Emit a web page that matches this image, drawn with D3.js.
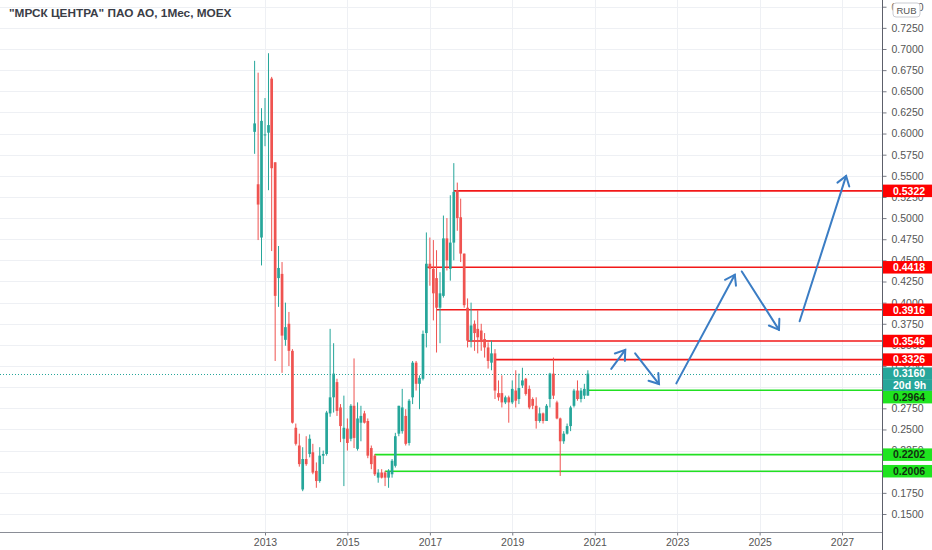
<!DOCTYPE html>
<html>
<head>
<meta charset="utf-8">
<script src="https://cdn.jsdelivr.net/npm/d3@7/dist/d3.min.js"></script>
<style>
  html, body { margin: 0; padding: 0; background: #fff; }
  svg { display: block; font-family: "Liberation Sans", Arial, sans-serif; }
</style>
</head>
<body>
<div id="chart"></div>
<script>
// monthly candles, first bar = Oct 2012
const firstMonth = new Date(2012, 9, 1);
const opens  = [.602,.540,.477,.598,.601,.665,.566,.429,.434,.356,.375,.343,.252,.231,.179,.215,.221,.223,.201,.189,
                .219,.221,.269,.288,.306,.276,.239,.251,.239,.278,.227,.258,.269,.260,.228,.219,.193,.199,.199,.193,
                .197,.207,.245,.248,.266,.234,.288,.329,.304,.310,.364,.446,.440,.429,.394,.408,.476,.440,.471,.533,
                .501,.458,.394,.355,.375,.369,.367,.357,.347,.329,.340,.293,.293,.282,.288,.282,.296,.286,.302,.310,
                .298,.286,.278,.260,.269,.260,.286,.316,.282,.263,.236,.245,.254,.278,.296,.286,.290,.290];
const highs  = [.686,.672,.630,.642,.695,.667,.566,.467,.448,.400,.389,.345,.257,.245,.229,.242,.244,.233,.211,.229,
                .225,.272,.369,.352,.310,.280,.290,.263,.280,.334,.282,.278,.272,.263,.231,.221,.203,.203,.201,.203,
                .215,.246,.278,.298,.274,.286,.331,.331,.314,.367,.483,.477,.474,.462,.436,.503,.500,.527,.565,.542,
                .523,.458,.405,.400,.379,.391,.375,.364,.353,.355,.345,.308,.314,.290,.290,.308,.320,.316,.323,.311,
                .302,.288,.288,.276,.270,.280,.317,.335,.284,.264,.248,.257,.278,.298,.308,.299,.304,.320];
const lows   = [.576,.474,.444,.585,.533,.461,.331,.395,.317,.349,.325,.257,.231,.206,.177,.207,.217,.197,.181,.187,
                .209,.219,.265,.270,.266,.235,.183,.225,.236,.228,.225,.236,.257,.216,.203,.195,.187,.192,.183,.181,
                .193,.205,.242,.245,.231,.231,.280,.296,.274,.308,.347,.420,.379,.341,.352,.406,.438,.426,.450,.485,
                .448,.394,.347,.347,.343,.340,.343,.335,.322,.320,.286,.284,.276,.280,.258,.280,.276,.280,.299,.290,
                .274,.274,.251,.258,.257,.260,.276,.286,.262,.195,.233,.244,.248,.276,.284,.282,.286,.290];
const closes = [.612,.516,.615,.599,.610,.559,.408,.441,.361,.371,.343,.258,.233,.209,.215,.209,.239,.199,.189,.219,
                .221,.270,.288,.316,.272,.254,.252,.234,.278,.240,.263,.266,.258,.219,.209,.197,.199,.193,.193,.201,
                .213,.242,.278,.276,.233,.284,.329,.304,.311,.363,.446,.440,.411,.394,.411,.476,.450,.471,.531,.500,
                .458,.397,.355,.373,.364,.359,.355,.347,.331,.340,.296,.288,.282,.288,.282,.298,.284,.299,.308,.292,
                .276,.278,.260,.269,.260,.278,.316,.290,.263,.236,.245,.254,.276,.296,.286,.296,.298,.316];

// horizontal levels drawn by the author (start = candle index)
const levelPrices = [0.5322, 0.4418, 0.3916, 0.3546, 0.3326, 0.2964, 0.2202, 0.2006];
const levelStarts = [58, 50, 53, 62, 70, 97, 35, 38];
const levelKinds  = ['res', 'res', 'res', 'res', 'res', 'sup', 'sup', 'sup'];

const lastPrice = 0.3160;
const countdown = '20d 9h';

// forecast arrows: [decimal year, price] from -> to
const arrowFrom = [[2021.40, 0.3216], [2021.98, 0.3400], [2022.98, 0.3045], [2024.57, 0.4369], [2025.97, 0.3780]];
const arrowTo   = [[2021.74, 0.3441], [2022.56, 0.3037], [2024.40, 0.4330], [2025.47, 0.3678], [2027.10, 0.5499]];

const yTicks = d3.range(0, 25).map(i => +(0.15 + i * 0.025).toFixed(3));
const yearTicks = [2013, 2015, 2017, 2019, 2021, 2023, 2025, 2027];

const title = '"МРСК ЦЕНТРА" ПАО АО, 1Мес, MOEX';

class ChartDirector {

  constructor(id) {
    this.width = 932;
    this.height = 550;
    this.plotW = 882;   // price scale starts here
    this.plotH = 532;   // time scale starts here
    this.scene = d3.select('#' + id).append('svg')
        .attr('width', this.width)
        .attr('height', this.height);

    this.x = d3.scaleTime()
        .domain([new Date(2013, 0, 1), new Date(2027, 0, 1)])
        .range([265, 842]);
    this.y = d3.scaleLinear()
        .domain([0.15, 0.70])
        .range([514, 49]);

    this.candles = opens.map((o, i) => ({
      date: d3.timeMonth.offset(firstMonth, i),
      o: o, h: highs[i], l: lows[i], c: closes[i]
    }));
  }

  yearDate(v) {
    const yr = Math.floor(v);
    const start = new Date(yr, 0, 1);
    return new Date(+start + (v - yr) * 365.25 * 864e5);
  }

  draw() {
    this.addClip();
    this.drawGrid();
    this.drawLevels();
    this.drawCandles();
    this.drawArrows();
    this.drawAxes();
    this.drawPriceLabels();
    this.drawTitle();
  }

  addClip() {
    this.scene.append('defs').append('clipPath').attr('id', 'plot-clip')
      .append('rect').attr('width', this.plotW).attr('height', this.plotH);
    this.plot = this.scene.append('g').attr('clip-path', 'url(#plot-clip)');
  }

  drawGrid() {
    const grid = this.plot.append('g').attr('class', 'grid');
    grid.selectAll('line.h').data(yTicks).join('line')
        .attr('class', 'h')
        .attr('x1', 0).attr('x2', this.plotW)
        .attr('y1', d => Math.round(this.y(d)) + 0.5)
        .attr('y2', d => Math.round(this.y(d)) + 0.5)
        .attr('stroke', '#eef0f4');
    grid.selectAll('line.v').data(yearTicks).join('line')
        .attr('class', 'v')
        .attr('x1', d => Math.round(this.x(new Date(d, 0, 1))) + 0.5)
        .attr('x2', d => Math.round(this.x(new Date(d, 0, 1))) + 0.5)
        .attr('y1', 0).attr('y2', this.plotH)
        .attr('stroke', '#eef0f4');
  }

  drawLevels() {
    const g = this.plot.append('g').attr('class', 'levels');
    const levels = levelPrices.map((p, i) => ({ p: p, start: this.candles[levelStarts[i]].date, kind: levelKinds[i] }));
    g.selectAll('line').data(levels).join('line')
        .attr('x1', d => this.x(d.start))
        .attr('x2', this.plotW)
        .attr('y1', d => this.y(d.p))
        .attr('y2', d => this.y(d.p))
        .attr('stroke', d => d.kind === 'res' ? '#f21818' : '#22e022')
        .attr('stroke-width', 1.6);

    // last price dotted line
    g.append('line')
        .attr('x1', 0).attr('x2', this.plotW)
        .attr('y1', Math.round(this.y(lastPrice)) + 0.5)
        .attr('y2', Math.round(this.y(lastPrice)) + 0.5)
        .attr('stroke', '#26a69a')
        .attr('stroke-dasharray', '1,2');
  }

  drawCandles() {
    const g = this.plot.append('g').attr('class', 'candles');
    const bw = 2.7;
    const color = d => d.c >= d.o ? '#26a69a' : '#ef5350';
    const bars = g.selectAll('g').data(this.candles).join('g')
        .attr('transform', d => `translate(${this.x(d.date)},0)`);
    bars.append('line')
        .attr('y1', d => this.y(d.h))
        .attr('y2', d => this.y(d.l))
        .attr('stroke', color)
        .attr('stroke-width', 1);
    bars.append('rect')
        .attr('x', -bw / 2)
        .attr('width', bw)
        .attr('y', d => this.y(Math.max(d.o, d.c)))
        .attr('height', d => Math.max(1, Math.abs(this.y(d.o) - this.y(d.c))))
        .attr('fill', color);
  }

  drawArrows() {
    const g = this.plot.append('g').attr('class', 'arrows')
        .attr('stroke', '#3b7dc4')
        .attr('stroke-width', 2)
        .attr('stroke-linecap', 'round')
        .attr('fill', 'none');
    arrowFrom.forEach((a, i) => {
      const b = arrowTo[i];
      const x1 = this.x(this.yearDate(a[0])), y1 = this.y(a[1]);
      const x2 = this.x(this.yearDate(b[0])), y2 = this.y(b[1]);
      const ang = Math.atan2(y2 - y1, x2 - x1);
      const len = 11, spread = 0.6;
      const h1 = [x2 - len * Math.cos(ang - spread), y2 - len * Math.sin(ang - spread)];
      const h2 = [x2 - len * Math.cos(ang + spread), y2 - len * Math.sin(ang + spread)];
      g.append('path').attr('d', `M${x1},${y1}L${x2},${y2}`);
      g.append('path').attr('d', `M${h1[0]},${h1[1]}L${x2},${y2}L${h2[0]},${h2[1]}`);
    });
  }

  drawAxes() {
    const yAxis = d3.axisRight(this.y)
        .tickValues(yTicks)
        .tickFormat(d3.format('.4f'))
        .tickSize(4)
        .tickPadding(5);
    const ya = this.scene.append('g')
        .attr('transform', `translate(${this.plotW + 0.5},0)`)
        .call(yAxis);
    ya.select('.domain').remove();
    ya.selectAll('line').attr('stroke', '#787b86');
    ya.selectAll('text').attr('fill', '#555').attr('font-size', 10.5)
        .attr('font-family', '"Liberation Sans", Arial, sans-serif');

    const xAxis = d3.axisBottom(this.x)
        .tickValues(yearTicks.map(d => new Date(d, 0, 1)))
        .tickFormat(d3.timeFormat('%Y'))
        .tickSize(3)
        .tickPadding(3);
    const xa = this.scene.append('g')
        .attr('transform', `translate(0,${this.plotH + 0.5})`)
        .call(xAxis);
    xa.select('.domain').remove();
    xa.selectAll('line').attr('stroke', '#787b86');
    xa.selectAll('text').attr('fill', '#555').attr('font-size', 10.5)
        .attr('font-family', '"Liberation Sans", Arial, sans-serif');

    this.scene.append('line')
        .attr('x1', 0).attr('x2', this.plotW)
        .attr('y1', this.plotH + 0.5).attr('y2', this.plotH + 0.5)
        .attr('stroke', '#8a8d96');
    this.scene.append('line')
        .attr('x1', this.plotW + 0.5).attr('x2', this.plotW + 0.5)
        .attr('y1', 0).attr('y2', this.height)
        .attr('stroke', '#5d606b');

    // currency badge
    const rub = this.scene.append('g').attr('transform', 'translate(893,3)');
    rub.append('rect').attr('width', 27).attr('height', 14).attr('rx', 3)
        .attr('fill', '#fff').attr('stroke', '#c9cbd1');
    rub.append('text').attr('x', 13.5).attr('y', 10.5).attr('text-anchor', 'middle')
        .attr('font-size', 9.5).attr('fill', '#555').text('RUB');
  }

  drawPriceLabels() {
    const items = levelPrices.map((p, i) => ({
      y: this.y(p), h: 12.5, text: p.toFixed(4),
      fill: levelKinds[i] === 'res' ? '#ff0000' : '#1fe41f',
      color: levelKinds[i] === 'res' ? '#fff' : '#10300f'
    }));
    items.push({ y: this.y(lastPrice), h: 12.5, text: lastPrice.toFixed(4), fill: '#26a69a', color: '#fff' });
    items.push({ y: this.y(lastPrice) + 0.1, h: 11, text: countdown, fill: '#26a69a', color: '#fff' });
    items.sort((a, b) => a.y - b.y);

    // push overlapping labels downward like the price scale does
    let bottom = -Infinity;
    items.forEach(d => {
      if (d.y - d.h / 2 < bottom) d.y = bottom + d.h / 2;
      bottom = d.y + d.h / 2;
    });

    const g = this.scene.append('g').attr('class', 'price-labels');
    const lab = g.selectAll('g').data(items).join('g')
        .attr('transform', d => `translate(${this.plotW + 1},${d.y - d.h / 2})`);
    lab.append('rect')
        .attr('width', 49)
        .attr('height', d => d.h)
        .attr('fill', d => d.fill);
    lab.append('text')
        .attr('x', 10)
        .attr('y', d => d.h / 2)
        .attr('dy', '0.36em')
        .attr('font-size', 10.5)
        .attr('font-weight', 'bold')
        .attr('fill', d => d.color)
        .text(d => d.text);
  }

  drawTitle() {
    this.scene.append('text')
        .attr('x', 9).attr('y', 17)
        .attr('font-size', 11.8)
        .attr('font-weight', 'bold')
        .attr('fill', '#3a3d46')
        .text(title);
  }
}

new ChartDirector('chart').draw();
</script>
</body>
</html>
